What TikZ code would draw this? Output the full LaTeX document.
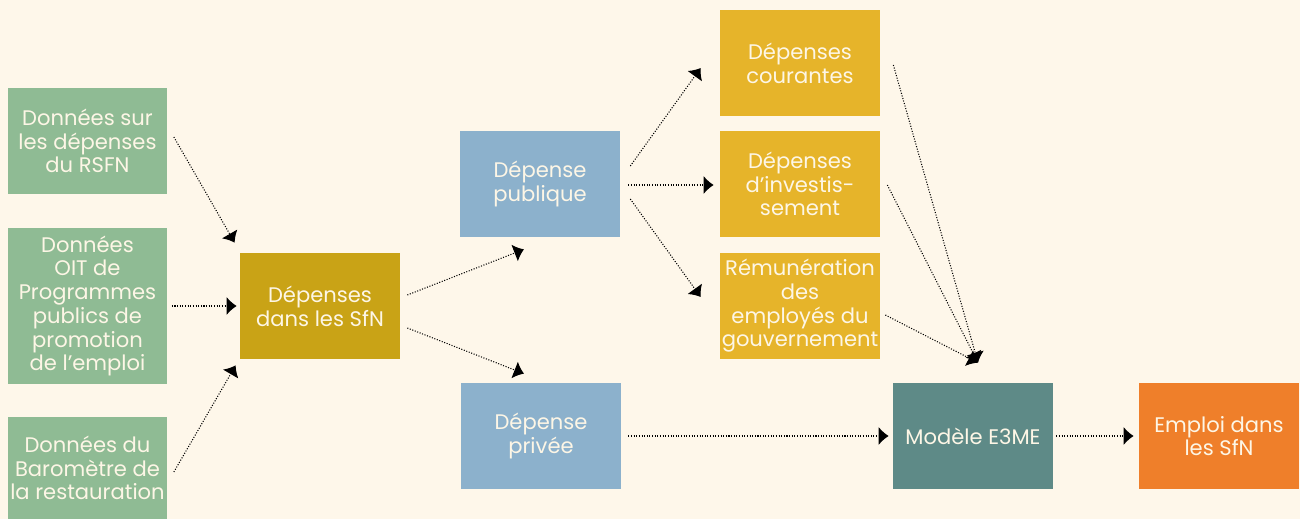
\documentclass[tikz,border=0pt]{standalone}
\usepackage{fontspec}
\setmainfont{Poppins}
\usetikzlibrary{arrows.meta}
\definecolor{bgcream}{HTML}{FEF7EA}
\definecolor{boxtext}{HTML}{FDF6E6}
\definecolor{sourcegreen}{HTML}{8FBB94}
\definecolor{spendmustard}{HTML}{C9A316}
\definecolor{splitblue}{HTML}{8CB1CC}
\definecolor{itemyellow}{HTML}{E6B42A}
\definecolor{modelteal}{HTML}{5E8A87}
\definecolor{resultorange}{HTML}{EF7F2A}
\begin{document}
\begin{tikzpicture}[x=0.02cm,y=-0.02cm,
  box/.style={rectangle,minimum width=3.2cm,minimum height=2.12cm,
    align=center,text=boxtext,inner sep=0pt,
    font=\fontsize{12}{13.5}\selectfont},
  flow/.style={-{Latex[length=2mm,width=3.6mm]},line width=0.6pt,
    dash pattern=on 0.6pt off 0.9pt}]
  \fill[bgcream] (0,0) rectangle (1300,519);
  \useasboundingbox (0,0) rectangle (1300,519);
  % sources
  \node[box,fill=sourcegreen] (rsfn) at (87.5,141) {Données sur\\les dépenses\\du RSFN};
  \node[box,fill=sourcegreen,minimum height=3.12cm] (oit) at (87.5,306)
    {Données\\OIT de\\Programmes\\publics de\\promotion\\de l’emploi};
  \node[box,fill=sourcegreen,minimum height=2.04cm] (barometre) at (87.5,468)
    {Données du\\Baromètre de\\la restauration};
  % spending
  \node[box,fill=spendmustard] (depsfn) at (320,306) {Dépenses\\dans les SfN};
  \node[box,fill=splitblue] (publique) at (540,184) {Dépense\\publique};
  \node[box,fill=splitblue] (privee) at (541,436) {Dépense\\privée};
  \node[box,fill=itemyellow] (courantes) at (800,63) {Dépenses\\courantes};
  \node[box,fill=itemyellow] (invest) at (800,184) {Dépenses\\d’investis-\\sement};
  \node[box,fill=itemyellow] (remun) at (800,306) {Rémunération\\des\\employés du\\gouvernement};
  % model and result
  \node[box,fill=modelteal] (eme) at (973,436) {Modèle E3ME};
  \node[box,fill=resultorange] (emploi) at (1219,436) {Emploi dans\\les SfN};
  % flows
  \draw[flow] ([shift={(6,-4)}]rsfn.east) -- ([shift={(-5,-10)}]depsfn.north west);
  \draw[flow] ([shift={(4,0)}]oit.east) -- ([shift={(-3,0)}]depsfn.west);
  \draw[flow] ([shift={(6,4)}]barometre.east) -- ([shift={(-4,6)}]depsfn.south west);
  \draw[flow] ([shift={(7,-11)}]depsfn.east) -- ([shift={(-16,12)}]publique.south);
  \draw[flow] ([shift={(7,22)}]depsfn.east) -- ([shift={(-17,-9)}]privee.north);
  \draw[flow] ([shift={(10,-18)}]publique.east) -- ([shift={(-19,5)}]courantes.west);
  \draw[flow] ([shift={(8,1)}]publique.east) -- ([shift={(-6,1)}]invest.west);
  \draw[flow] ([shift={(10,15)}]publique.east) -- ([shift={(-19,-9)}]remun.west);
  \draw[flow] ([shift={(13,2)}]courantes.east) -- ([shift={(5,-20)}]eme.north);
  \draw[flow] ([shift={(7,1)}]invest.east) -- ([shift={(5,-20)}]eme.north);
  \draw[flow] ([shift={(5,9)}]remun.east) -- ([shift={(5,-20)}]eme.north);
  \draw[flow] ([shift={(7,0)}]privee.east) -- ([shift={(-4,0)}]eme.west);
  \draw[flow] ([shift={(3,0)}]eme.east) -- ([shift={(-5,0)}]emploi.west);
\end{tikzpicture}
\end{document}
